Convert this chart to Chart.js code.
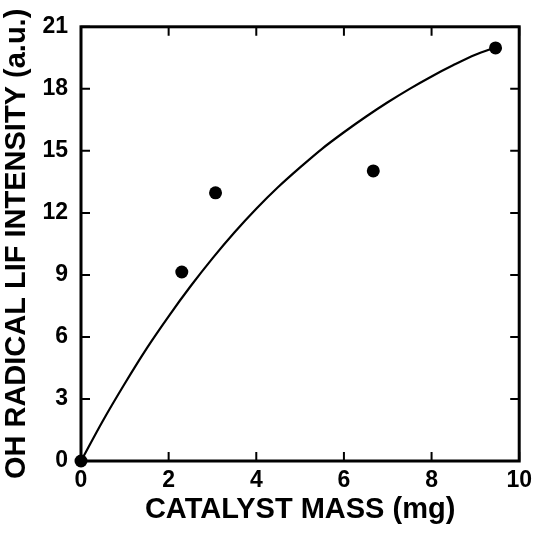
<!DOCTYPE html>
<html>
<head>
<meta charset="utf-8">
<script src="https://cdn.jsdelivr.net/npm/chart.js@4/dist/chart.umd.min.js"></script>
<style>
  html, body { margin: 0; padding: 0; background: #fff; }
  #wrap { width: 538px; height: 535px; }
</style>
</head>
<body>
<div id="wrap"><canvas id="chart" width="538" height="535"></canvas></div>
<script>
// measured points: catalyst mass (mg) vs OH LIF intensity (a.u.)
const massPoints = [0, 2.3, 3.07, 6.67, 9.46];
const intensityPoints = [0, 9.14, 12.97, 14.03, 19.98];

// smooth trend curve
const curveMass = [0, 0.5, 1, 1.5, 2, 2.5, 3, 3.5, 4, 4.5, 5, 5.5, 6, 6.5, 7, 7.5, 8, 8.5, 9, 9.46];
const curveIntensity = [0, 1.95, 3.75, 5.45, 7.0, 8.45, 9.8, 11.05, 12.2, 13.25, 14.2, 15.1, 15.9, 16.65, 17.35, 18.0, 18.6, 19.15, 19.65, 20.0];

const xTicks = [0, 2, 4, 6, 8, 10];
const yTicks = [0, 3, 6, 9, 12, 15, 18, 21];

const FONT = '"Liberation Sans", Arial, Helvetica, sans-serif';

// box frame with inward ticks on all four sides
const frame = {
  id: 'frame',
  afterDatasetsDraw(chart) {
    const { ctx, chartArea: a, scales } = chart;
    const len = 9;
    ctx.save();
    ctx.strokeStyle = '#000';
    ctx.lineWidth = 2;
    ctx.beginPath();
    xTicks.forEach(v => {
      const px = scales.x.getPixelForValue(v);
      ctx.moveTo(px, a.bottom); ctx.lineTo(px, a.bottom - len);
      ctx.moveTo(px, a.top); ctx.lineTo(px, a.top + len);
    });
    yTicks.forEach(v => {
      const py = scales.y.getPixelForValue(v);
      ctx.moveTo(a.left, py); ctx.lineTo(a.left + len, py);
      ctx.moveTo(a.right, py); ctx.lineTo(a.right - len, py);
    });
    ctx.stroke();
    ctx.lineWidth = 3;
    ctx.strokeRect(a.left, a.top, a.right - a.left, a.bottom - a.top);
    ctx.restore();
  }
};

new Chart(document.getElementById('chart'), {
  type: 'scatter',
  data: {
    datasets: [
      {
        data: curveMass.map((x, i) => ({ x: x, y: curveIntensity[i] })),
        showLine: true,
        borderColor: '#000',
        borderWidth: 2.2,
        pointRadius: 0,
        cubicInterpolationMode: 'monotone',
        fill: false
      },
      {
        data: massPoints.map((x, i) => ({ x: x, y: intensityPoints[i] })),
        pointRadius: 6.5,
        pointBackgroundColor: '#000',
        pointBorderColor: '#000',
        pointBorderWidth: 0,
        clip: false
      }
    ]
  },
  options: {
    responsive: false,
    animation: false,
    events: [],
    layout: { padding: { top: 23, right: 15, left: 0, bottom: 0 } },
    plugins: { legend: { display: false }, tooltip: { enabled: false } },
    scales: {
      x: {
        type: 'linear',
        min: 0, max: 10,
        afterBuildTicks: s => { s.ticks = xTicks.map(v => ({ value: v })); },
        afterFit: s => { s.height = 74; },
        grid: { display: false, drawTicks: false },
        border: { display: false },
        ticks: { color: '#000', padding: 6, font: { family: FONT, size: 23, weight: 'bold' }, maxRotation: 0 },
        title: {
          display: true, text: 'CATALYST MASS (mg)', color: '#000',
          font: { family: FONT, size: 29, weight: 'bold' },
          padding: { top: 0, bottom: 8 }
        }
      },
      y: {
        type: 'linear',
        min: 0, max: 21,
        afterBuildTicks: s => { s.ticks = yTicks.map(v => ({ value: v })); },
        afterFit: s => { s.width = 81; },
        grid: { display: false, drawTicks: false },
        border: { display: false },
        ticks: { color: '#000', padding: 13, font: { family: FONT, size: 23, weight: 'bold' } },
        title: {
          display: true, text: 'OH RADICAL LIF INTENSITY (a.u.)', color: '#000',
          font: { family: FONT, size: 29, weight: 'bold' },
          padding: { top: 0, bottom: 0 }
        }
      }
    }
  },
  plugins: [frame]
});
</script>
</body>
</html>
